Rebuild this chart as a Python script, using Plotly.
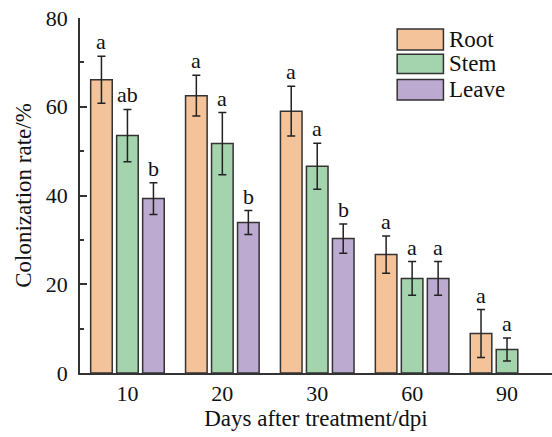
import plotly.graph_objects as go

days = ["10", "20", "30", "60", "90"]
series = ["Root", "Stem", "Leave"]
root_mean = [66.1, 62.5, 59.0, 26.7, 8.9]
root_err = [5.3, 4.6, 5.6, 4.2, 5.4]
stem_mean = [53.5, 51.7, 46.6, 21.3, 5.3]
stem_err = [5.9, 7.0, 5.2, 3.8, 2.6]
leave_mean = [39.3, 33.9, 30.3, 21.3, None]
leave_err = [3.6, 2.7, 3.3, 3.8, None]
root_letters = ["a", "a", "a", "a", "a"]
stem_letters = ["ab", "a", "a", "a", "a"]
leave_letters = ["b", "b", "b", "a", None]

colors = ["#F4C399", "#A3D4AD", "#BCAAD0"]
edge = "#333333"
FONT = "Liberation Serif"

means = [root_mean, stem_mean, leave_mean]
errs = [root_err, stem_err, leave_err]
letters = [root_letters, stem_letters, leave_letters]

fig = go.Figure()
for name, m, e, c in zip(series, means, errs, colors):
    fig.add_trace(go.Bar(
        x=days, y=m, name=name,
        marker=dict(color=c, line=dict(color=edge, width=1.5)),
        error_y=dict(type="data", array=[v if v is not None else 0 for v in e],
                     color="#222222", thickness=1.5, width=4),
        showlegend=False,
    ))

step = 0.274
offsets = [-step, 0, step]
for k in range(3):
    for i in range(len(days)):
        if letters[k][i] is None or means[k][i] is None:
            continue
        fig.add_annotation(
            x=i + offsets[k], y=means[k][i] + errs[k][i],
            xref="x", yref="y", text=letters[k][i], showarrow=False,
            yanchor="bottom", yshift=0,
            font=dict(family=FONT, size=22, color="#111111"),
        )

# legend drawn as boxes
box_x0, box_x1 = 0.672, 0.770
rows = [(0.910, 0.969), (0.844, 0.898), (0.769, 0.827)]
for (y0, y1), name, c in zip(rows, series, colors):
    fig.add_shape(type="rect", xref="x domain", yref="y domain",
                  x0=box_x0, x1=box_x1, y0=y0, y1=y1,
                  fillcolor=c, line=dict(color=edge, width=1.5))
    fig.add_annotation(xref="x domain", yref="y domain", x=0.778, y=(y0 + y1) / 2,
                       text=name, showarrow=False, xanchor="left", yanchor="middle",
                       font=dict(family=FONT, size=23, color="#111111"))

fig.update_layout(
    width=552, height=437,
    margin=dict(l=80, r=0, t=18, b=64),
    paper_bgcolor="white", plot_bgcolor="white",
    barmode="group", bargap=0.178, bargroupgap=0.17,
    font=dict(family=FONT, size=22, color="#111111"),
)
fig.update_xaxes(
    type="category", range=[-0.5, 4.474], automargin=False,
    showline=True, linecolor=edge, linewidth=1.5,
    ticks="", showgrid=False, zeroline=False,
    tickfont=dict(family=FONT, size=22),
    title=dict(text="Days after treatment/dpi", font=dict(family=FONT, size=23), standoff=5),
)
fig.update_yaxes(
    range=[0, 80], dtick=20, tick0=0, automargin=False,
    showline=True, linecolor=edge, linewidth=1.5,
    ticks="inside", ticklen=7, tickwidth=1.5, tickcolor=edge,
    minor=dict(ticks="inside", ticklen=4, dtick=10, tickwidth=1.5, tickcolor=edge, showgrid=False),
    showgrid=False, zeroline=False,
    tickfont=dict(family=FONT, size=22),
    ticklabelstandoff=6,
    title=dict(text="Colonization rate/%", font=dict(family=FONT, size=23), standoff=8),
)

fig.write_html("out.html", config={"displayModeBar": False},
               post_script="document.body.style.margin='0';document.body.style.padding='0';")
